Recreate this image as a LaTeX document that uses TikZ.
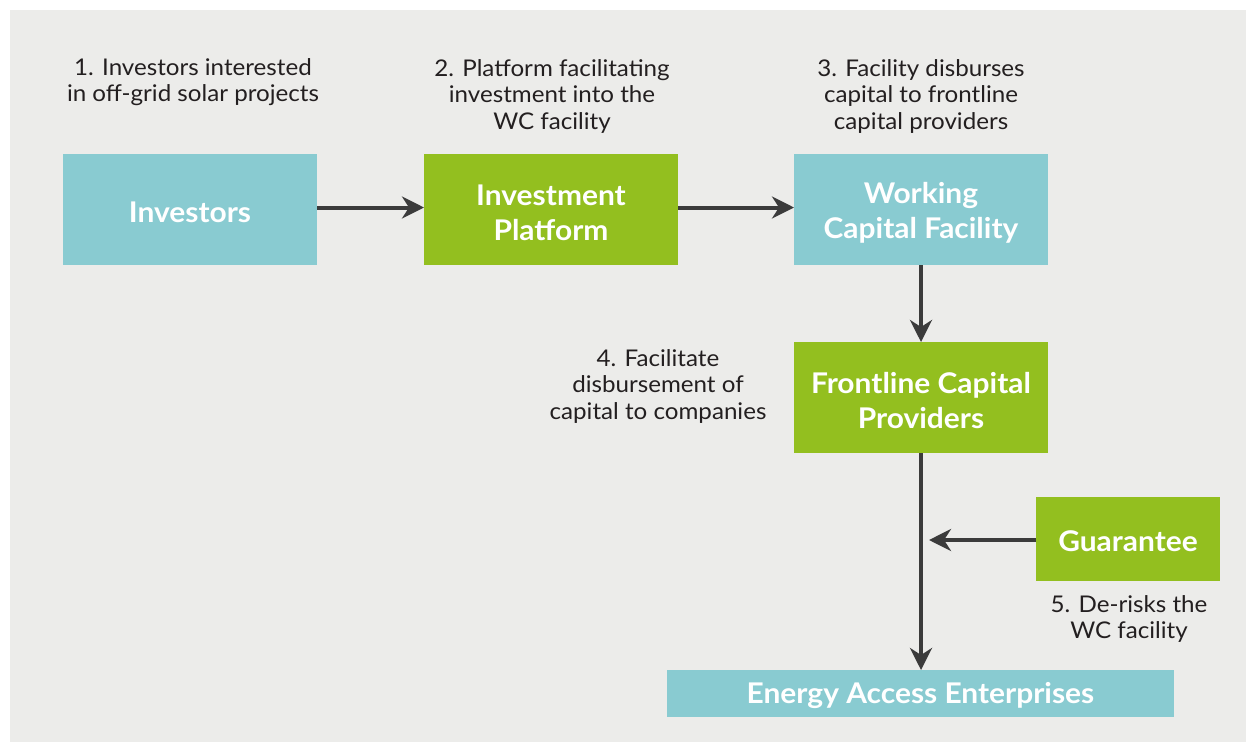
\documentclass[tikz,border=0pt]{standalone}
\usepackage{fontspec}
\setmainfont{Lato}[FakeStretch=1.05]
\usetikzlibrary{arrows.meta}
\definecolor{bgc}{HTML}{ECECEA}
\definecolor{tealc}{HTML}{89CBD1}
\definecolor{greenc}{HTML}{93BF1F}
\definecolor{arrc}{HTML}{3B3B3B}
\definecolor{txtc}{HTML}{231F20}
\tikzset{
  boxtext/.style={inner sep=0pt, text=white, align=center, yshift=-3pt,
     font=\fontsize{28.5}{35}\selectfont\bfseries},
  boxbase/.style={anchor=north west, inner sep=0pt, outer sep=0pt},
  tealbox/.style={boxbase, fill=tealc},
  greenbox/.style={boxbase, fill=greenc},
  lbl/.style={align=center, text=txtc, inner sep=0pt, font=\fontsize{23}{26.5}\selectfont},
  conn/.style={draw=arrc, line width=4pt, -{Stealth[length=22pt,width=22pt,inset=7pt]}}
}
\begin{document}
\begin{tikzpicture}[x=1pt,y=-1pt]
\useasboundingbox (0,0) rectangle (1246,742);
\fill[bgc] (10,10) rectangle (1246,742);
% boxes
\node[tealbox, minimum width=254pt, minimum height=111pt,
  label={[boxtext]center:Investors}] (inv) at (63,154) {};
\node[greenbox, minimum width=254pt, minimum height=111pt,
  label={[boxtext]center:{Investment\\Platform}}] (plat) at (424,154) {};
\node[tealbox, minimum width=254pt, minimum height=111pt,
  label={[boxtext]center:{Working\\Capital Facility}}] (wcf) at (794,154) {};
\node[greenbox, minimum width=254pt, minimum height=111pt,
  label={[boxtext]center:{Frontline Capital\\Providers}}] (fcp) at (794,342) {};
\node[greenbox, minimum width=184pt, minimum height=84pt,
  label={[boxtext, yshift=1pt]center:Guarantee}] (gua) at (1036,497) {};
\node[tealbox, minimum width=507pt, minimum height=47pt,
  label={[boxtext, yshift=1pt]center:Energy Access Enterprises}] (eae) at (667,670) {};
% labels
\node[lbl] (l1) at (193,82) {1. Investors interested\\in off-grid solar projects};
\node[lbl] (l2) at (552,96) {2. Platform facilitating\\investment into the\\WC facility};
\node[lbl] (l3) at (921,96) {3. Facility disburses\\capital to frontline\\capital providers};
\node[lbl] (l4) at (658,386) {4. Facilitate\\disbursement of\\capital to companies};
\node[lbl] (l5) at (1129,619) {5. De-risks the\\WC facility};
% connectors
\draw[conn] ([yshift=2pt]inv.east) -- ([yshift=2pt]plat.west);
\draw[conn] ([yshift=2pt]plat.east) -- ([yshift=2pt]wcf.west);
\draw[conn] (wcf.south) -- (fcp.north);
\draw[conn] (fcp.south) -- (eae.north -| fcp.south);
\coordinate (gtip) at (929,540);
\draw[conn] (gua.west |- gtip) -- (gtip);
\end{tikzpicture}
\end{document}
